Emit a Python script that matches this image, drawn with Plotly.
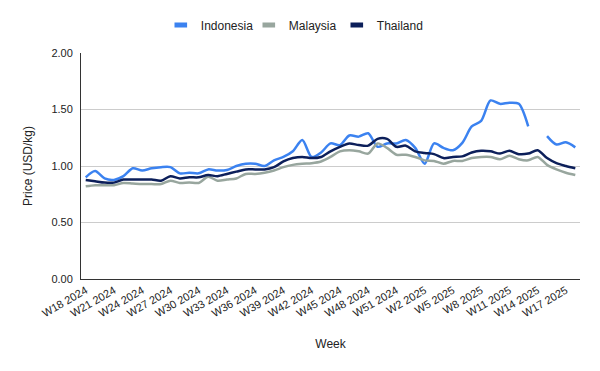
import plotly.graph_objects as go

weeks = [
    "W18 2024", "W19 2024", "W20 2024", "W21 2024", "W22 2024", "W23 2024", "W24 2024",
    "W25 2024", "W26 2024", "W27 2024", "W28 2024", "W29 2024", "W30 2024", "W31 2024",
    "W32 2024", "W33 2024", "W34 2024", "W35 2024", "W36 2024", "W37 2024", "W38 2024",
    "W39 2024", "W40 2024", "W41 2024", "W42 2024", "W43 2024", "W44 2024", "W45 2024",
    "W46 2024", "W47 2024", "W48 2024", "W49 2024", "W50 2024", "W51 2024", "W52 2024",
    "W1 2025", "W2 2025", "W3 2025", "W4 2025", "W5 2025", "W6 2025", "W7 2025",
    "W8 2025", "W9 2025", "W10 2025", "W11 2025", "W12 2025", "W13 2025", "W14 2025",
    "W15 2025", "W16 2025", "W17 2025", "W18 2025",
]

indonesia = [
    0.90, 0.955, 0.89, 0.877, 0.91, 0.98, 0.96, 0.98, 0.99, 0.99,
    0.935, 0.94, 0.935, 0.97, 0.96, 0.965, 1.00, 1.02, 1.02, 1.00,
    1.05, 1.08, 1.13, 1.23, 1.08, 1.12, 1.20, 1.185, 1.27, 1.26,
    1.29, 1.17, 1.20, 1.20, 1.23, 1.16, 1.02, 1.20, 1.16, 1.14,
    1.205, 1.35, 1.40, 1.58, 1.55, 1.56, 1.55, 1.35, None, 1.265,
    1.19, 1.21, 1.165,
]

malaysia = [
    0.82, 0.83, 0.83, 0.83, 0.85, 0.845, 0.84, 0.84, 0.84, 0.87,
    0.85, 0.855, 0.85, 0.905, 0.87, 0.88, 0.89, 0.93, 0.93, 0.94,
    0.96, 0.99, 1.01, 1.02, 1.025, 1.04, 1.08, 1.13, 1.14, 1.13,
    1.11, 1.20, 1.16, 1.10, 1.10, 1.08, 1.05, 1.045, 1.02, 1.045,
    1.045, 1.07, 1.08, 1.08, 1.06, 1.09, 1.06, 1.05, 1.08, 1.01,
    0.97, 0.94, 0.92,
]

thailand = [
    0.877, 0.865, 0.853, 0.853, 0.88, 0.88, 0.88, 0.88, 0.87, 0.91,
    0.89, 0.90, 0.90, 0.92, 0.91, 0.93, 0.95, 0.97, 0.97, 0.97,
    0.99, 1.04, 1.07, 1.08, 1.07, 1.08, 1.13, 1.17, 1.20, 1.185,
    1.18, 1.24, 1.24, 1.17, 1.18, 1.13, 1.115, 1.105, 1.07, 1.08,
    1.085, 1.12, 1.135, 1.13, 1.11, 1.135, 1.105, 1.11, 1.14, 1.07,
    1.025, 1.00, 0.98,
]

tick_labels = weeks[::3]
y_ticks = [0, 0.5, 1.0, 1.5, 2.0]

series = [
    ("Indonesia", indonesia, "#3b82f0"),
    ("Malaysia", malaysia, "#98a69e"),
    ("Thailand", thailand, "#0c1f5a"),
]

fig = go.Figure()
for name, vals, color in series:
    fig.add_trace(go.Scatter(
        x=weeks, y=vals, name=name, mode="lines", legendgroup=name,
        showlegend=False,
        line=dict(color=color, width=2.5, shape="spline", smoothing=0.8),
        connectgaps=False,
    ))
# legend entries (short thick bar swatches)
for name, vals, color in series:
    fig.add_trace(go.Scatter(
        x=[None], y=[None], name=name, mode="markers", legendgroup=name,
        marker=dict(symbol="line-ew", size=9, line=dict(color=color, width=5)),
    ))

font = "Arial, Liberation Sans, sans-serif"
fig.update_layout(
    width=600, height=371,
    margin=dict(l=81, r=20, t=53, b=92, autoexpand=False),
    paper_bgcolor="white", plot_bgcolor="white",
    font=dict(family=font, size=11, color="#222222"),
    showlegend=True,
    legend=dict(
        orientation="h", x=0.488, xanchor="center", xref="container",
        y=1 - 25 / 371, yanchor="middle", yref="container",
        font=dict(size=12, color="#222222"),
        entrywidth=43, entrywidthmode="pixels",
    ),
    xaxis=dict(
        type="category", range=[-0.5, len(weeks) - 0.5], automargin=False,
        tickmode="array", tickvals=tick_labels, ticktext=tick_labels,
        tickangle=-30, showgrid=False, showline=True, linecolor="#333333",
        linewidth=1, ticks="", tickfont=dict(size=11, color="#222222"),
        title=dict(text="Week", font=dict(size=12, color="#222222"), standoff=21),
    ),
    yaxis=dict(
        range=[0, 2.0], tickvals=y_ticks, tickformat=".2f", automargin=False,
        showgrid=True, gridcolor="#cccccc", gridwidth=1,
        showline=True, linecolor="#333333", linewidth=1, zeroline=False,
        ticks="", tickfont=dict(size=11, color="#222222"), ticklabelstandoff=5,
        title=dict(text="Price (USD/kg)", font=dict(size=12, color="#222222"), standoff=16),
    ),
)

fig.write_html("out.html", config={"displayModeBar": False},
               post_script="document.body.style.margin='0';")
